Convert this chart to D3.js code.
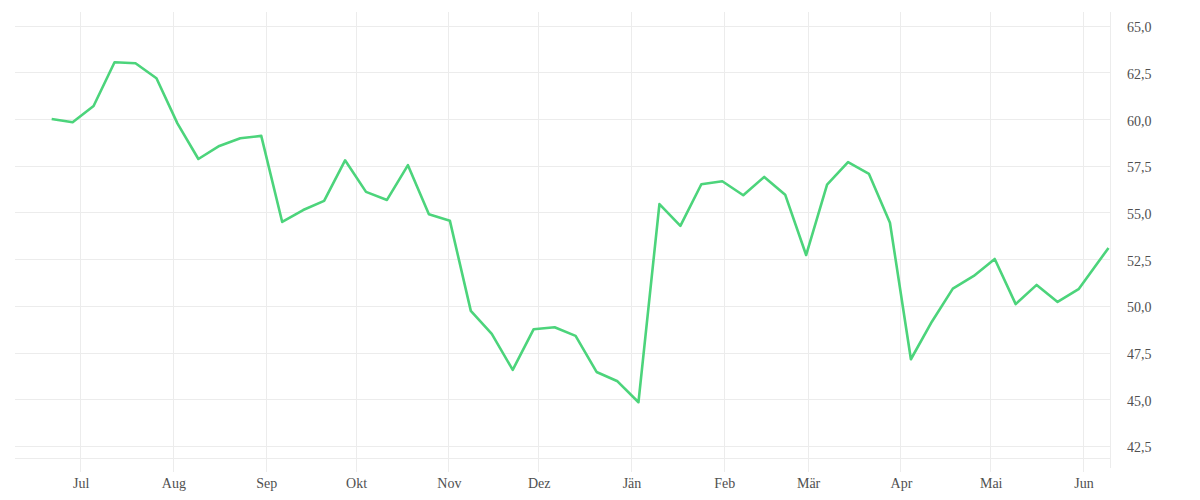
<!DOCTYPE html>
<html>
<head>
<meta charset="utf-8">
<script src="https://cdn.jsdelivr.net/npm/d3@7"></script>
<style>
  html, body { margin: 0; padding: 0; background: #fff; }
  svg { display: block; }
  text { font-family: "Liberation Serif", "DejaVu Serif", serif; font-size: 14px; fill: #505050; }
</style>
</head>
<body>
<svg id="chart" width="1200" height="500"></svg>
<script>
// ---- data ----
const dates = [
  "2022-06-21","2022-06-28","2022-07-05","2022-07-12","2022-07-19","2022-07-26",
  "2022-08-02","2022-08-09","2022-08-16","2022-08-23","2022-08-30",
  "2022-09-06","2022-09-13","2022-09-20","2022-09-27",
  "2022-10-04","2022-10-11","2022-10-18","2022-10-25",
  "2022-11-01","2022-11-08","2022-11-15","2022-11-22","2022-11-29",
  "2022-12-06","2022-12-13","2022-12-20","2022-12-27",
  "2023-01-03","2023-01-10","2023-01-17","2023-01-24","2023-01-31",
  "2023-02-07","2023-02-14","2023-02-21","2023-02-28",
  "2023-03-07","2023-03-14","2023-03-21","2023-03-28",
  "2023-04-04","2023-04-11","2023-04-18","2023-04-25",
  "2023-05-02","2023-05-09","2023-05-16","2023-05-23","2023-05-30",
  "2023-06-09"
];
const values = [
  60.0, 59.83, 60.70, 63.04, 62.99, 62.18,
  59.77, 57.86, 58.56, 58.97, 59.10,
  54.49, 55.13, 55.62, 57.79,
  56.10, 55.67, 57.53, 54.90,
  54.56, 49.73, 48.50, 46.57, 48.75,
  48.85, 48.39, 46.46, 45.96,
  44.84, 55.45, 54.28, 56.51, 56.67,
  55.92, 56.90, 55.95, 52.72,
  56.49, 57.69, 57.06, 54.45,
  47.14, 49.15, 50.92, 51.60,
  52.51, 50.09, 51.12, 50.21, 50.89,
  53.10
];
const monthStarts = ["2022-07-01","2022-08-01","2022-09-01","2022-10-01","2022-11-01","2022-12-01",
                     "2023-01-01","2023-02-01","2023-03-01","2023-04-01","2023-05-01","2023-06-01"];
const monthLabels = ["Jul","Aug","Sep","Okt","Nov","Dez","Jän","Feb","Mär","Apr","Mai","Jun"];
const yTicks = [42.5, 45, 47.5, 50, 52.5, 55, 57.5, 60, 62.5, 65];
const xDomain = ["2022-06-09T06:00", "2023-06-10T00:00"];
const yDomain = [41.87, 65.73];

// ---- chart ----
(function () {
const parse = s => new Date(s.length > 10 ? s : s + "T12:00");
const parseDay = s => new Date(s + "T00:00");
const pLeft = 15, pRight = 1110, pTop = 12, pBottom = 457.7;

const svg = d3.select("#chart");
const x = d3.scaleTime().domain(xDomain.map(s => new Date(s))).range([pLeft, pRight]);
const y = d3.scaleLinear().domain(yDomain).range([pBottom, pTop]);
const fmt = d3.formatLocale({decimal: ",", thousands: ".", grouping: [3], currency: ["", "€"]}).format(".1f");

const grid = svg.append("g").attr("stroke", "#ececec").attr("stroke-width", 1).attr("shape-rendering", "crispEdges");

grid.selectAll("line.h").data(yTicks).join("line")
  .attr("x1", pLeft).attr("x2", pRight)
  .attr("y1", d => Math.round(y(d)) + 0.5).attr("y2", d => Math.round(y(d)) + 0.5);
grid.append("line").attr("x1", pLeft).attr("x2", pRight)
  .attr("y1", Math.round(pBottom) + 0.5).attr("y2", Math.round(pBottom) + 0.5);
const months = monthStarts.map(parseDay);
grid.selectAll("line.v").data(months).join("line")
  .attr("x1", d => Math.round(x(d)) + 0.5).attr("x2", d => Math.round(x(d)) + 0.5)
  .attr("y1", pTop).attr("y2", 472);
grid.append("line").attr("x1", pRight + 0.5).attr("x2", pRight + 0.5).attr("y1", pTop).attr("y2", 468);

svg.append("g").selectAll("text").data(yTicks).join("text")
  .attr("x", 1127).attr("y", d => y(d) + 6.5)
  .text(d => fmt(d));

svg.append("g").selectAll("text").data(months).join("text")
  .attr("x", d => x(d) + 1).attr("y", 488)
  .attr("text-anchor", "middle")
  .text((d, i) => monthLabels[i]);

const data = dates.map((d, i) => ({date: parse(d), value: values[i]}));
svg.append("path").datum(data)
  .attr("fill", "none")
  .attr("stroke", "#4cd47b")
  .attr("stroke-width", 2.6)
  .attr("stroke-linejoin", "round")
  .attr("d", d3.line().x(d => x(d.date)).y(d => y(d.value)));
})();
</script>
</body>
</html>
